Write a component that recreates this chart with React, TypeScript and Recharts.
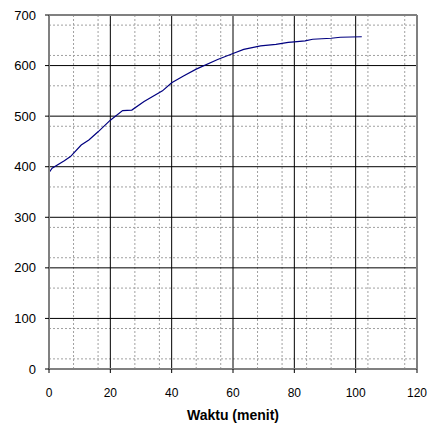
import React from 'react';
import { LineChart, Line, XAxis, YAxis, CartesianGrid, ReferenceLine } from 'recharts';

const timeMinutes = [0, 1, 5, 7, 10.5, 13, 16, 20, 24, 27, 31, 37, 40, 44, 48, 55, 60, 63.5, 69, 74, 78, 80, 83.5, 86, 92, 95, 102];
const values = [388, 397, 412, 420, 443, 453, 469, 492, 511, 512, 529, 550, 566, 580, 593, 612, 624, 632, 639, 642, 646, 647, 649, 652, 654, 656, 657];

const xTicks = [0, 20, 40, 60, 80, 100, 120];
const yTicks = [0, 100, 200, 300, 400, 500, 600, 700];
const xMinor = [4, 8, 12, 16, 24, 28, 32, 36, 44, 48, 52, 56, 64, 68, 72, 76, 84, 88, 92, 96, 104, 108, 112, 116];
const yMinor = [20, 40, 60, 80, 120, 140, 160, 180, 220, 240, 260, 280, 320, 340, 360, 380, 420, 440, 460, 480, 520, 540, 560, 580, 620, 640, 660, 680];

const data = timeMinutes.map((t, i) => ({ t, v: values[i] }));

export default function App() {
  return (
    <div style={{ position: 'absolute', left: 0, top: 0, background: '#fff' }}>
      <LineChart width={432} height={423} data={data} margin={{ top: 15, right: 15, left: 0, bottom: 0 }}>
        <CartesianGrid horizontalValues={yMinor} verticalValues={xMinor} stroke="#a0a0a0" strokeDasharray="2 2" />
        <CartesianGrid horizontalValues={yTicks} verticalValues={xTicks} stroke="#000" />
        <XAxis
          dataKey="t"
          type="number"
          domain={[0, 120]}
          ticks={xTicks}
          height={54}
          tickSize={4}
          tickMargin={15}
          tick={{ fontSize: 12, fill: '#000', fontFamily: 'Liberation Sans, Arial, sans-serif' }}
          axisLine={{ stroke: '#808080', strokeWidth: 2 }}
          tickLine={{ stroke: '#000' }}
          label={{ value: 'Waktu (menit)', position: 'insideBottom', offset: 3, fontSize: 14, fontWeight: 'bold', fill: '#000', fontFamily: 'Liberation Sans, Arial, sans-serif' }}
        />
        <YAxis
          type="number"
          domain={[0, 700]}
          ticks={yTicks}
          width={49}
          tickSize={4}
          tickMargin={9}
          tick={{ fontSize: 13, fill: '#000', fontFamily: 'Liberation Sans, Arial, sans-serif' }}
          axisLine={{ stroke: '#808080', strokeWidth: 2 }}
          tickLine={{ stroke: '#000' }}
        />
        <ReferenceLine y={700} stroke="#808080" strokeWidth={2} />
        <ReferenceLine x={120} stroke="#808080" strokeWidth={2} />
        <Line type="linear" dataKey="v" stroke="#000080" strokeWidth={1.2} dot={false} isAnimationActive={false} />
      </LineChart>
    </div>
  );
}
